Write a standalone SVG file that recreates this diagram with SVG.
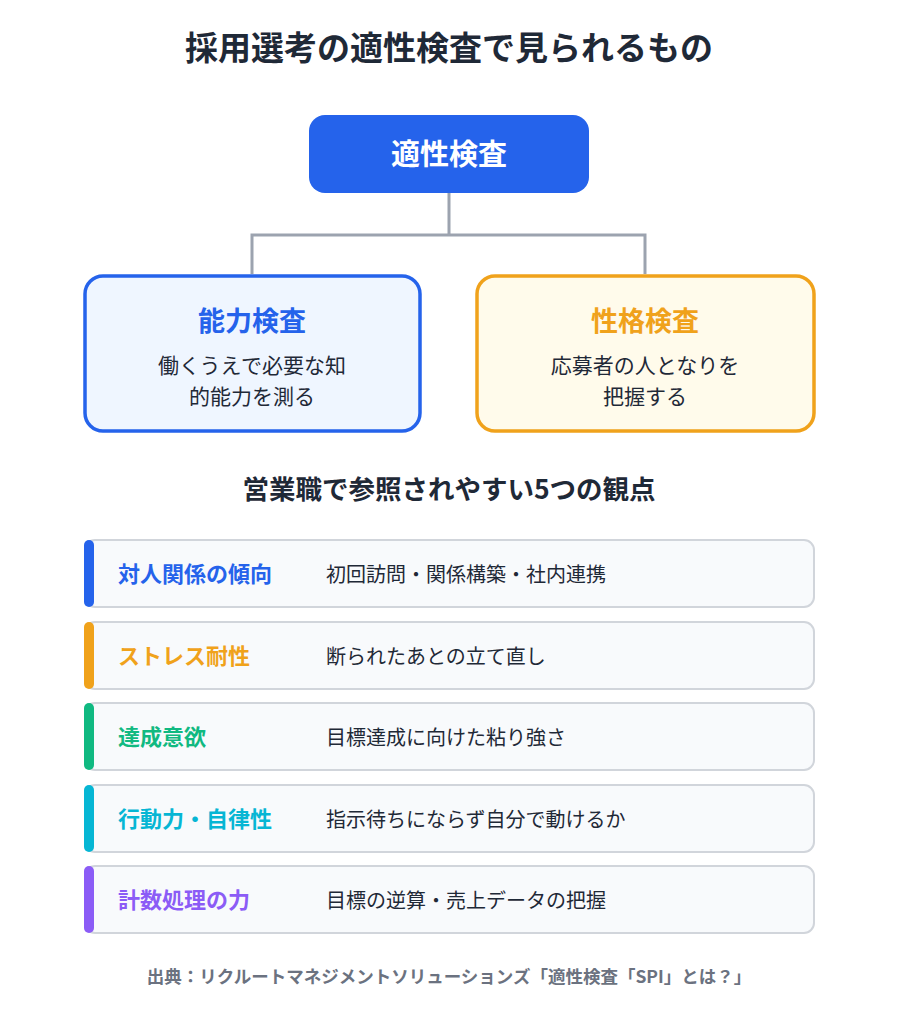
<svg xmlns="http://www.w3.org/2000/svg" width="898" height="1024" viewBox="0 0 898 1024">
<style>
text{font-family:"Noto Sans CJK JP","Noto Sans",sans-serif}
.t{font-size:33px;font-weight:700;fill:#1f2937}
.h{font-size:26.5px;font-weight:700;fill:#1f2937}
.d{font-size:20px;fill:#1f2937}
.b{font-size:21px;fill:#1f2937}
.k{font-size:22px;font-weight:700}
.row{fill:#f8fafc;stroke:#d1d5db;stroke-width:2}
.c{fill:none;stroke:#9ca3af;stroke-width:3}
</style>
<rect width="898" height="1024" fill="#fff"/>
<text class="t" x="449" y="60" text-anchor="middle">採用選考の適性検査で見られるもの</text>
<g id="connectors">
<path class="c" d="M449 193V235H252V274M449 235H645V274"/>
</g>
<g id="root">
<rect x="309" y="115" width="280" height="78" rx="16" fill="#2563eb"/>
<text x="449" y="165" text-anchor="middle" font-size="29" font-weight="700" fill="#fff">適性検査</text>
</g>
<g id="ability">
<rect x="85" y="276" width="335" height="155" rx="18" fill="#eff6ff" stroke="#2563eb" stroke-width="3.5"/>
<text x="252" y="331" text-anchor="middle" font-size="27" font-weight="700" fill="#2563eb">能力検査</text>
<text class="b" x="252" y="373" text-anchor="middle">働くうえで必要な知</text>
<text class="b" x="252" y="404" text-anchor="middle">的能力を測る</text>
</g>
<g id="personality">
<rect x="477" y="276" width="337" height="155" rx="18" fill="#fffbeb" stroke="#f0a21b" stroke-width="3.5"/>
<text x="645" y="331" text-anchor="middle" font-size="27" font-weight="700" fill="#f0a21b">性格検査</text>
<text class="b" x="645" y="373" text-anchor="middle">応募者の人となりを</text>
<text class="b" x="645" y="404" text-anchor="middle">把握する</text>
</g>
<text class="h" x="449" y="499" text-anchor="middle">営業職で参照されやすい5つの観点</text>
<g id="r1"><rect class="row" x="85" y="540" width="729" height="67" rx="10"/><rect x="84" y="540" width="10" height="67" rx="5" fill="#2563eb"/>
<text class="k" x="118" y="582" fill="#2563eb">対人関係の傾向</text><text class="d" x="326" y="582">初回訪問・関係構築・社内連携</text></g>
<g id="r2"><rect class="row" x="85" y="622" width="729" height="67" rx="10"/><rect x="84" y="622" width="10" height="67" rx="5" fill="#f0a21b"/>
<text class="k" x="118" y="664" fill="#f0a21b">ストレス耐性</text><text class="d" x="326" y="664">断られたあとの立て直し</text></g>
<g id="r3"><rect class="row" x="85" y="703" width="729" height="67" rx="10"/><rect x="84" y="703" width="10" height="67" rx="5" fill="#10b981"/>
<text class="k" x="118" y="745" fill="#10b981">達成意欲</text><text class="d" x="326" y="745">目標達成に向けた粘り強さ</text></g>
<g id="r4"><rect class="row" x="85" y="785" width="729" height="67" rx="10"/><rect x="84" y="785" width="10" height="67" rx="5" fill="#06b6d4"/>
<text class="k" x="118" y="827" fill="#06b6d4">行動力・自律性</text><text class="d" x="326" y="827">指示待ちにならず自分で動けるか</text></g>
<g id="r5"><rect class="row" x="85" y="866" width="729" height="67" rx="10"/><rect x="84" y="866" width="10" height="67" rx="5" fill="#8b5cf6"/>
<text class="k" x="118" y="908" fill="#8b5cf6">計数処理の力</text><text class="d" x="326" y="908">目標の逆算・売上データの把握</text></g>
<text x="449" y="983" text-anchor="middle" font-size="17.5" font-weight="700" fill="#6b7280">出典：リクルートマネジメントソリューションズ「適性検査「SPI」とは？」</text>
</svg>
